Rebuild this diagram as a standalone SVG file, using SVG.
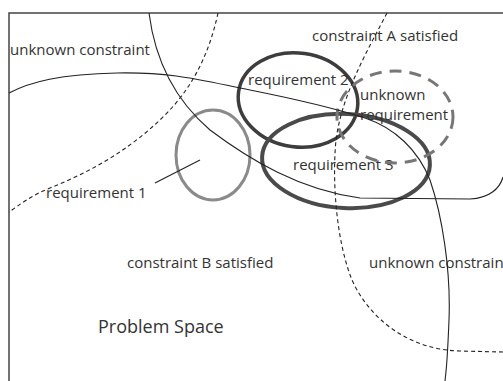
<svg xmlns="http://www.w3.org/2000/svg" width="503" height="381" viewBox="0 0 503 381">
<style>
.t{font-family:"Open Sans","Noto Sans",sans-serif;font-size:15px;fill:#333}
.big{font-size:18px}
.ln{fill:none;stroke:#222;stroke-width:1.1}
.dash{stroke-dasharray:4 3}
.req{fill:none}
</style>
<rect x="0" y="0" width="503" height="381" fill="#fff"/>
<g id="frame">
<path d="M9,381 L9,13 L503,13" fill="none" stroke="#444" stroke-width="1.5"/>
</g>
<g id="requirement1">
<ellipse class="req" cx="213" cy="155" rx="37" ry="45" stroke="#8a8a8a" stroke-width="3"/>
<text class="t" x="46" y="198">requirement 1</text>
</g>
<g id="requirement2">
<ellipse class="req" cx="298" cy="100" rx="60" ry="47" transform="rotate(8 298 100)" stroke="#3d3d3d" stroke-width="3.5"/>
<text class="t" x="248" y="85">requirement 2</text>
</g>
<g id="requirement3">
<ellipse class="req" cx="346" cy="161" rx="84" ry="47" transform="rotate(3 346 161)" stroke="#4a4a4a" stroke-width="4"/>
<text class="t" x="293" y="170">requirement 3</text>
</g>
<g id="unknown-requirement">
<ellipse class="req" cx="395" cy="117" rx="58" ry="46" stroke="#777" stroke-width="3" stroke-dasharray="12 8"/>
<text class="t" x="360" y="100">unknown</text>
<text class="t" x="360" y="120">requirement</text>
</g>
<g id="labels">
<text class="t" x="10" y="55">unknown constraint</text>
<text class="t" x="312" y="41">constraint A satisfied</text>
<text class="t" x="127" y="268">constraint B satisfied</text>
<text class="t" x="369" y="268">unknown constrain</text>
<text class="t big" x="98" y="333">Problem Space</text>
</g>
<g id="connectors">
<path class="ln" d="M9,93 C30,82 60,74 117,73 S200,80 250,90 S340,110 365,118 C395,128 418,150 430,180 C442,215 451,270 449,320 S446,370 445,381"/>
<path class="ln" d="M149,13 C155,60 175,100 210,130 C250,160 300,190 360,198 L470,199 C490,198 500,188 503,177"/>
<path class="ln dash" d="M218,13 C210,50 195,85 165,115 C130,150 90,172 50,188 C30,196 18,206 9,212"/>
<path class="ln dash" d="M387,13 C365,55 342,95 336,140 C332,180 336,240 352,280 C370,320 410,350 460,351 L503,352"/>
<path class="ln" d="M155,183 L200,160"/>
</g>
</svg>
